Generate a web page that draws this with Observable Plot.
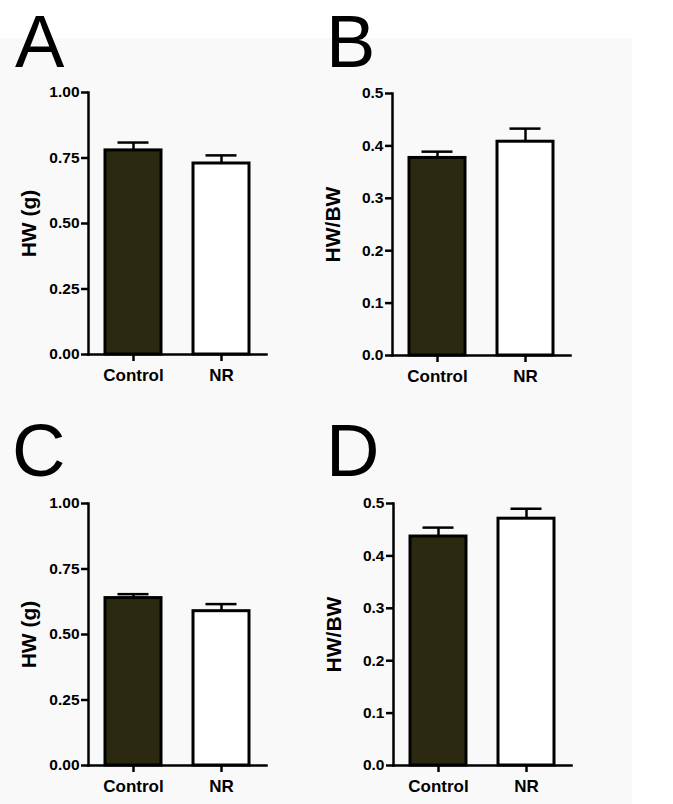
<!DOCTYPE html>
<html><head><meta charset="utf-8">
<script src="https://cdn.jsdelivr.net/npm/d3@7"></script>
<script src="https://cdn.jsdelivr.net/npm/@observablehq/plot@0.6"></script>
<style>
body{margin:0;background:#fff;width:673px;height:804px;position:relative;overflow:hidden;font-family:"Liberation Sans",Arial,sans-serif}
#bg{position:absolute;left:0;top:38px;width:632px;height:766px;background:#f9f9f9}
.panel{position:absolute}
.letter{position:absolute;font-size:74px;line-height:74px;height:74px;color:#000;font-family:"Liberation Sans",Arial,sans-serif}
</style></head><body>
<div id="bg"></div>
<div id="root"></div>
<script>
const groups = ["Control", "NR"];
const fills = ["#2b2a10", "#ffffff"];

const meansA = [0.779, 0.729];
const errsA = [0.030, 0.031];
const meansB = [0.377, 0.408];
const errsB = [0.012, 0.025];
const meansC = [0.639, 0.589];
const errsC = [0.015, 0.027];
const meansD = [0.437, 0.471];
const errsD = [0.017, 0.019];

const ticksHW = [0, 0.25, 0.5, 0.75, 1.0];
const ticksRatio = [0, 0.1, 0.2, 0.3, 0.4, 0.5];

const panels = [
  {letter: "A", means: meansA, errs: errsA, ticks: ticksHW, fmt: ".2f", label: "HW (g)", left: 0, top: 0, lx: 15, ly: 4.5},
  {letter: "B", means: meansB, errs: errsB, ticks: ticksRatio, fmt: ".1f", label: "HW/BW", left: 304, top: 1, lx: 326, ly: 4.5},
  {letter: "C", means: meansC, errs: errsC, ticks: ticksHW, fmt: ".2f", label: "HW (g)", left: 0, top: 411, lx: 12, ly: 414},
  {letter: "D", means: meansD, errs: errsD, ticks: ticksRatio, fmt: ".1f", label: "HW/BW", left: 305, top: 411, lx: 326, ly: 414}
];

const root = document.getElementById("root");
const font = '"Liberation Sans", Arial, sans-serif';

for (const p of panels) {
  const data = groups.map((g, i) => ({group: g, mean: p.means[i], hi: p.means[i] + p.errs[i], fill: fills[i]}));
  const chart = Plot.plot({
    width: 330, height: 400,
    marginLeft: 88, marginTop: 92, marginBottom: 46, marginRight: 64,
    style: {background: "transparent", fontFamily: font, fontSize: "15px", fontWeight: "bold", color: "#000", overflow: "visible"},
    x: {domain: groups, paddingInner: 0.364, paddingOuter: 0.193, label: null},
    y: {domain: [0, p.ticks[p.ticks.length - 1]], label: null},
    color: {type: "identity"},
    marks: [
      Plot.ruleX(data, {x: "group", y1: "mean", y2: "hi", stroke: "#000", strokeWidth: 2.5}),
      Plot.tickY(data, {x: "group", y: "hi", stroke: "#000", strokeWidth: 2.5, insetLeft: 12.5, insetRight: 12.5}),
      Plot.barY(data, {x: "group", y: "mean", fill: "fill", stroke: "#000", strokeWidth: 3}),
      Plot.axisY({ticks: p.ticks, tickFormat: d3.format(p.fmt), tickSize: 7, tickPadding: 2, strokeWidth: 2.5, label: null, fontSize: 15.5}),
      Plot.axisX({tickSize: 7, tickPadding: 7, strokeWidth: 2.5, label: null, fontSize: 17}),
      Plot.frame({anchor: "left", strokeWidth: 2.5}),
      Plot.frame({anchor: "bottom", strokeWidth: 2.5}),
      Plot.text([p.label], {frameAnchor: "left", textAnchor: "middle", rotate: -90, dx: -59, fontSize: 21, fontWeight: "bold"})
    ]
  });
  const wrap = document.createElement("div");
  wrap.className = "panel";
  wrap.style.left = p.left + "px";
  wrap.style.top = p.top + "px";
  wrap.appendChild(chart);
  root.appendChild(wrap);

  const L = document.createElement("div");
  L.className = "letter";
  L.textContent = p.letter;
  L.style.left = p.lx + "px";
  L.style.top = p.ly + "px";
  root.appendChild(L);
}
</script>
</body></html>
